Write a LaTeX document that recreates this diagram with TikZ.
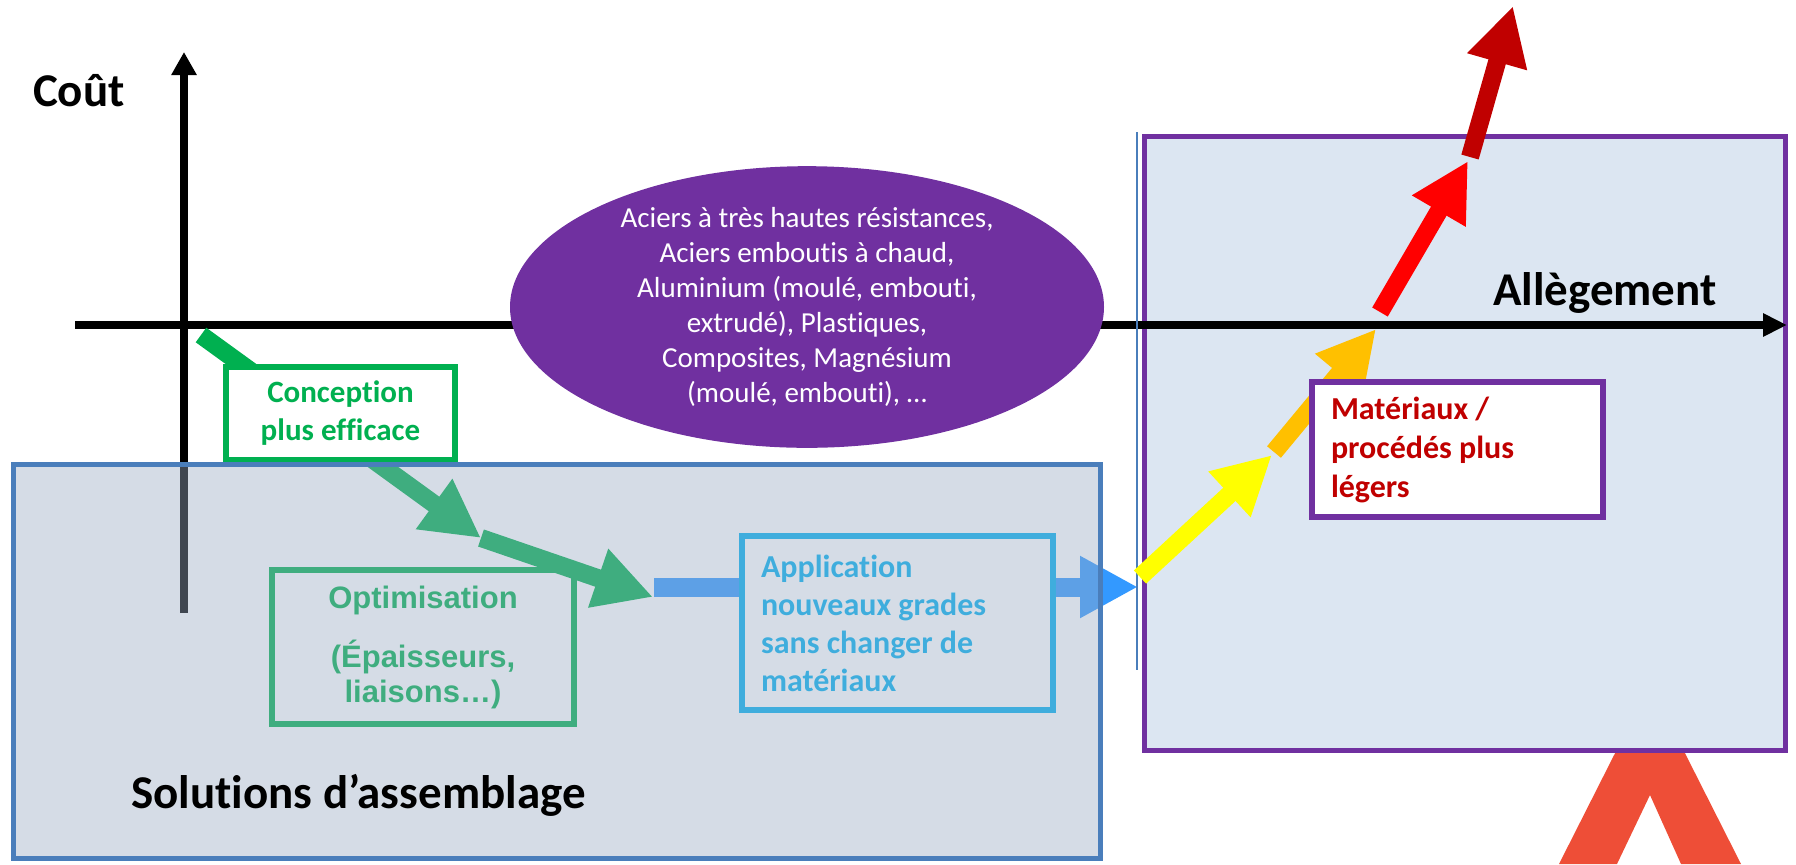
\documentclass[tikz,border=0pt]{standalone}
\usepackage{fontspec}
\setmainfont{Carlito}[RawFeature={-liga,-clig,-calt}]
\newfontfamily\arialfont{Liberation Sans}
\usetikzlibrary{arrows.meta,shapes.geometric}

\definecolor{vert}{HTML}{00B050}
\definecolor{bleuclair}{HTML}{00B0F0}
\definecolor{bleuvif}{HTML}{3399FF}
\definecolor{violet}{HTML}{7030A0}
\definecolor{fondviolet}{HTML}{DCE6F2}
\definecolor{voile}{RGB}{154,171,195}
\definecolor{bordbleu}{HTML}{4A7EBB}
\definecolor{jaune}{HTML}{FFFF00}
\definecolor{orangevif}{HTML}{FFC000}
\definecolor{rouge}{HTML}{FF0000}
\definecolor{rougefonce}{HTML}{C00000}
\definecolor{chevron}{HTML}{EE4E37}

\tikzset{
  axe/.style={line width=4pt},
  fleche/.style={line width=9pt,-{Triangle[length=29pt,width=29pt]}},
  boite/.style={draw,line width=3pt,inner sep=0pt},
  titre/.style={font=\bfseries\fontsize{23.5}{28}\selectfont},
}

\begin{document}
\begin{tikzpicture}[x=0.5pt,y=-0.5pt]
\useasboundingbox (0,0) rectangle (1796,864);
% logo en bas a droite
\fill[chevron] (1559,864) -- (1650,684) -- (1741,864) -- (1681,864) -- (1650,795) -- (1617,864) -- cycle;
% zone allegement
\draw[draw=violet,line width=2.5pt,fill=fondviolet] (1144.5,136.5) rectangle (1785.5,750.5);
% axes
\coordinate (xmin) at (75,325);
\coordinate (xmax) at (1787,325);
\coordinate (ymin) at (184,613);
\coordinate (ymax) at (184,52);
\draw[axe,-{Triangle[length=12pt,width=11pt]}] (xmin) -- (xmax);
\draw[axe,-{Triangle[length=11.5pt,width=12pt]}] (ymin) -- (ymax);
\node (cout) [titre,anchor=base west] at (26,106) {Coût};
\node (allegement) [titre,anchor=base west] at (1486,305) {Allègement};
% materiaux
\node (familles) [ellipse,fill=violet,text=white,inner sep=0pt,minimum width=297pt,minimum height=127pt,
  align=center,font=\fontsize{14.5}{17.5}\selectfont] at (807,307)
  {Aciers à très hautes résistances,\\Aciers emboutis à chaud,\\Aluminium (moulé, embouti,\\extrudé), Plastiques,\\Composites, Magnésium\\(moulé, embouti), …};
% conception
\coordinate (p1) at (201,335);
\coordinate (p2) at (481,538);
\coordinate (p3) at (653,597);
\draw[fleche,vert] (p1) -- (p2);
\node (conception) [boite,draw=vert,fill=white,text=vert,minimum width=114.5pt,minimum height=46.5pt,
  align=center,font=\bfseries\fontsize{15.5}{19}\selectfont] at (340.5,413.5) {Conception\\plus efficace};
\node (optim) [boite,draw=vert,text=vert,minimum width=151pt,minimum height=77pt,
  align=center,font=\arialfont\bfseries\fontsize{15.5}{17.5}\selectfont] at (423,647)
  {Optimisation\\[12pt](Épaisseurs,\\liaisons…)};
\draw[fleche,vert] (p2) -- (p3);
% nouveaux grades
\node (appli) [boite,draw=bleuclair,text=bleuclair,minimum width=155.5pt,minimum height=87pt,
  text width=136.5pt,inner xsep=9.5pt,align=flush left,font=\bfseries\fontsize{16}{19}\selectfont] at (897.5,623)
  {Application\\nouveaux grades\\sans changer de\\matériaux};
\coordinate (b1) at (654,587);
\coordinate (b2) at (1138,587);
\draw[bleuvif,line width=9.5pt] (b1) -- (b1 -| appli.west);
\draw[fleche,bleuvif,line width=9.5pt] (b1 -| appli.east) -- (b2);
% solutions d'assemblage
\draw[draw=bordbleu,line width=2.5pt,fill=voile,fill opacity=0.41] (13.5,464.5) rectangle (1100.5,858.5);
\node (assemblage) [titre,anchor=base west] at (124,808) {Solutions d’assemblage};
\draw[bordbleu,line width=1pt] (1137,132) -- (1137,670);
% allegement
\coordinate (c1) at (1140,577);
\coordinate (c2) at (1272,455);
\coordinate (c3) at (1274,452);
\coordinate (c4) at (1376,329);
\coordinate (c5) at (1380,312);
\coordinate (c6) at (1468,161);
\coordinate (c7) at (1470,157);
\coordinate (c8) at (1513,6);
\draw[fleche,jaune] (c1) -- (c2);
\draw[fleche,orangevif] (c3) -- (c4);
\draw[fleche,rouge] (c5) -- (c6);
\draw[fleche,rougefonce] (c7) -- (c8);
\node (legers) [boite,draw=violet,fill=white,text=rougefonce,minimum width=145.5pt,minimum height=67.5pt,
  text width=126.5pt,inner xsep=9.5pt,align=flush left,font=\bfseries\fontsize{16}{19.5}\selectfont] at (1457.5,449.5)
  {Matériaux /\\procédés plus\\légers};
\end{tikzpicture}
\end{document}
